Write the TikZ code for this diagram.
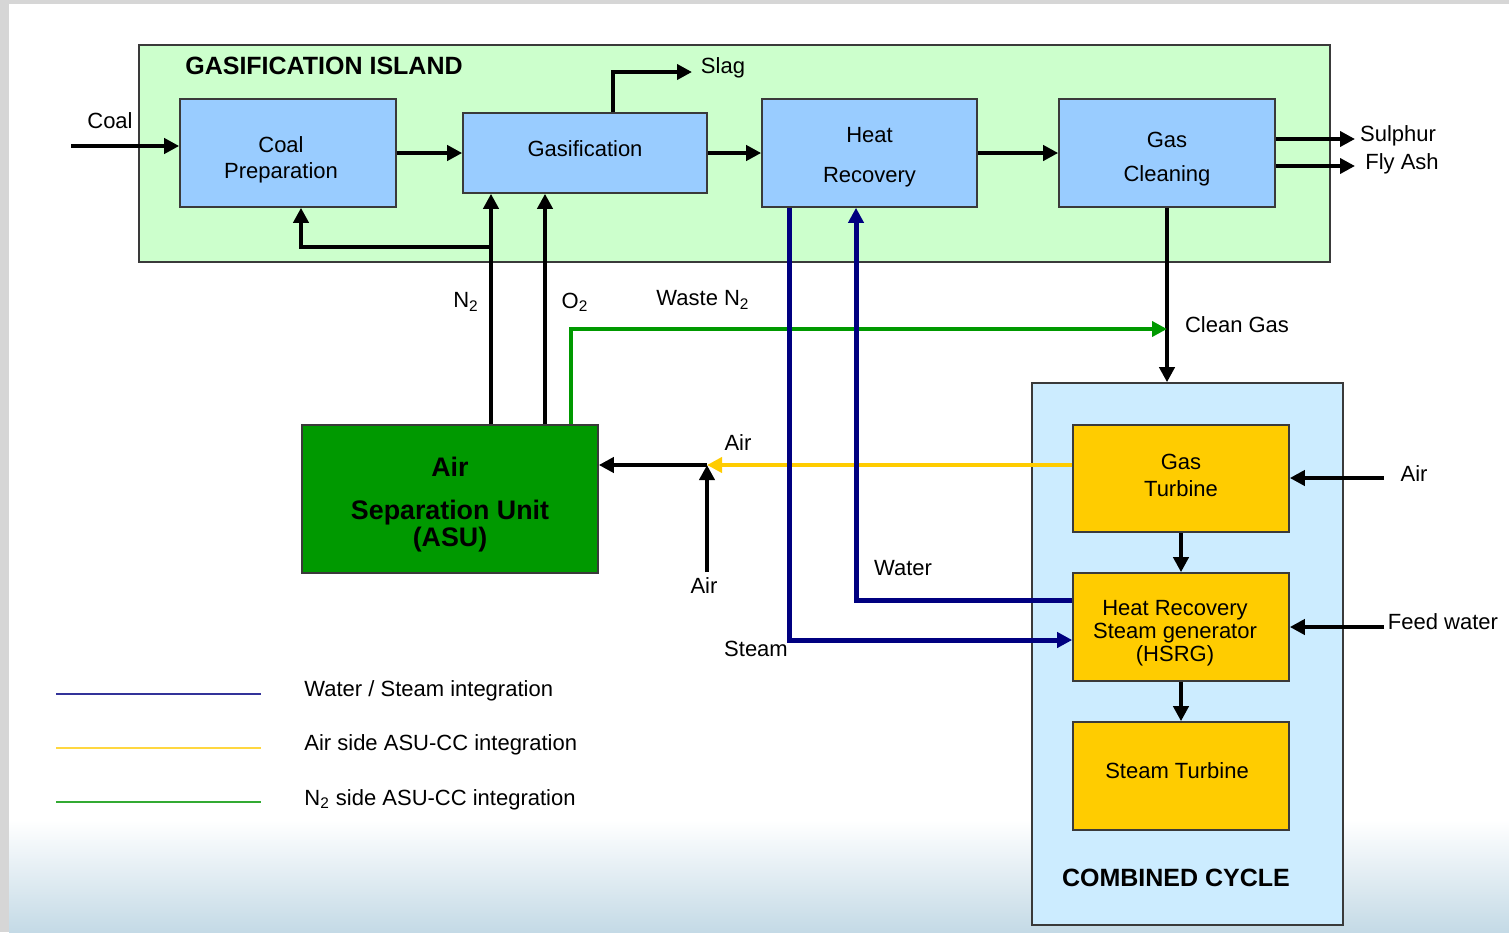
\documentclass[tikz,border=0pt]{standalone}
\usepackage{fontspec}
\setmainfont{Liberation Sans}
\usetikzlibrary{arrows.meta,positioning}
\definecolor{bggray}{HTML}{D6D6D6}
\definecolor{bgblue}{HTML}{C4DAE6}
\definecolor{islandgreen}{HTML}{CCFFCC}
\definecolor{unitblue}{HTML}{99CCFF}
\definecolor{ccblue}{HTML}{CCECFF}
\definecolor{ccyellow}{HTML}{FFCC00}
\definecolor{asugreen}{HTML}{009900}
\definecolor{steamblue}{HTML}{000080}
\definecolor{boxline}{HTML}{3A3A3A}
\definecolor{legblue}{HTML}{333399}
\definecolor{legyellow}{HTML}{FFD740}
\definecolor{leggreen}{HTML}{33AA33}
\tikzset{
  zone/.style={draw=boxline, line width=0.8pt, inner sep=0pt},
  unit/.style={draw=boxline, line width=0.8pt, fill=unitblue, inner sep=0pt},
  ccunit/.style={unit, fill=ccyellow},
  unittxt/.style={align=center, inner sep=0pt, font=\fontsize{11}{13}\selectfont},
  flow/.style={line width=2.2pt, -{Triangle[length=7.5pt,width=7.5pt]}},
  lbl/.style={font=\fontsize{11}{13}\selectfont, inner sep=0pt},
  title/.style={font=\fontsize{12.5}{15}\selectfont\bfseries, inner sep=0pt},
  legline/.style={line width=0.9pt}
}

\begin{document}
\begin{tikzpicture}[x=0.5pt,y=-0.5pt]
  % page background
  \useasboundingbox (0,0) rectangle (1509,932);
  \fill[bggray] (0,0) rectangle (1509,932);
  \fill[white] (9,4) rectangle (1509,932);
  \shade[top color=white,bottom color=bgblue] (9,820) rectangle (1509,932);

  % gasification island
  \node(island)[zone,fill=islandgreen,minimum width=595.5pt,minimum height=108.5pt] at (734.5,153.5){};
  \node(islandtitle)[title] at (324,66){GASIFICATION ISLAND};
  \node(cprep)[unit,minimum width=108pt,minimum height=54pt] at (288,153){};
  \node(gasif)[unit,minimum width=122pt,minimum height=40pt] at (585,153){};
  \node(hrec)[unit,minimum width=107.5pt,minimum height=54pt] at (869.5,153){};
  \node(gclean)[unit,minimum width=108pt,minimum height=54pt] at (1167,153){};
  \node(cpreptxt)[unittxt] at (281,160){Coal\\Preparation};
  \node(gasiftxt)[unittxt] at (585,149){Gasification};
  \node(hrectxt)[unittxt] at (869.5,157){Heat\\[7pt]Recovery};
  \node(gcleantxt)[unittxt] at (1167,159){Gas\\[4pt]Cleaning};

  % air separation unit
  \node(asu)[unit,fill=asugreen,minimum width=148pt,minimum height=74pt] at (450,499){};
  \node(asutxt)[unittxt,font=\fontsize{13.4}{13.5}\selectfont\bfseries] at (450,505){Air\\[8pt]Separation Unit\\(ASU)};

  % combined cycle
  \node(cc)[zone,fill=ccblue,minimum width=155.5pt,minimum height=271pt] at (1187.5,654){};
  \node(cctitle)[title] at (1176,878){COMBINED CYCLE};
  \node(gt)[ccunit,minimum width=108pt,minimum height=53.5pt] at (1181,478.5){};
  \node(hrsg)[ccunit,minimum width=108pt,minimum height=54pt] at (1181,627){};
  \node(st)[ccunit,minimum width=108pt,minimum height=54pt] at (1181,776){};
  \node(gttxt)[unittxt] at (1181,475){Gas\\[0.5pt]Turbine};
  \node(hrsgtxt)[unittxt,font=\fontsize{11}{11.5}\selectfont] at (1175,633){Heat Recovery\\Steam generator\\(HSRG)};
  \node(sttxt)[unittxt] at (1177,771){Steam Turbine};

  % helper points
  \coordinate(coalin) at (71,146);
  \coordinate(slagx) at (613,72);
  \coordinate(slagend) at (692,72);
  \coordinate(sulend) at (1355,139);
  \coordinate(ashend) at (1355,166);
  \coordinate(n2x) at (491,0);
  \coordinate(n2j) at (491,247);
  \coordinate(cpx) at (301,0);
  \coordinate(o2x) at (545,0);
  \coordinate(wn2) at (571,329);
  \coordinate(airj) at (707,465);
  \coordinate(airin) at (707,572);
  \coordinate(stx) at (789,640);
  \coordinate(wtx) at (856,600);
  \coordinate(gtair) at (1384,478);
  \coordinate(fwin) at (1384,627);

  % main gas line
  \draw[flow](coalin) -- (coalin -| cprep.west);
  \draw[flow](cprep) -- (gasif);
  \draw[flow](gasif) -- (hrec);
  \draw[flow](hrec) -- (gclean);
  \draw[flow](gasif.north -| slagx) |- (slagend);
  \draw[flow](sulend -| gclean.east) -- (sulend);
  \draw[flow](ashend -| gclean.east) -- (ashend);
  \draw[flow](gclean) -- (gclean |- cc.north);

  % asu streams
  \draw[flow](asu.north -| n2x) -- (gasif.south -| n2x);
  \draw[flow](n2j) -| (cprep.south -| cpx);
  \draw[flow](asu.north -| o2x) -- (gasif.south -| o2x);
  \draw[flow,draw=asugreen,line width=2pt](asu.north -| wn2) |- (gclean |- wn2);
  \draw[flow,draw=ccyellow,line width=2.4pt](airj -| gt.west) -- (airj);
  \draw[flow](airin) -- (airj);
  \draw[flow](airj) -- (airj -| asu.east);

  % water / steam
  \draw[flow,draw=steamblue,line width=2.5pt](hrec.south -| stx) |- (stx -| hrsg.west);
  \draw[flow,draw=steamblue,line width=2.5pt](wtx -| hrsg.west) -| (hrec.south -| wtx);

  % combined cycle streams
  \draw[flow](gt) -- (hrsg);
  \draw[flow](hrsg) -- (st);
  \draw[flow](gtair) -- (gtair -| gt.east);
  \draw[flow](fwin) -- (fwin -| hrsg.east);

  % labels
  \node(coallbl)[lbl] at (110,121){Coal};
  \node(slaglbl)[lbl] at (723,68){Slag};
  \node(sullbl)[lbl] at (1398,136){Sulphur};
  \node(ashlbl)[lbl] at (1402,164){Fly Ash};
  \node(cleanlbl)[lbl] at (1237,325){Clean Gas};
  \node(n2lbl)[lbl] at (466,302){N\textsubscript{2}};
  \node(o2lbl)[lbl] at (575,302){O\textsubscript{2}};
  \node(wn2lbl)[lbl] at (703,300){Waste N\textsubscript{2}};
  \node(airlbla)[lbl] at (738,443){Air};
  \node(airlblb)[lbl] at (704,586){Air};
  \node(waterlbl)[lbl] at (903,568){Water};
  \node(steamlbl)[lbl] at (756,649){Steam};
  \node(gtairlbl)[lbl] at (1414,474){Air};
  \node(fwlbl)[lbl] at (1443,622){Feed water};

  % legend
  \coordinate(lega) at (56,694);
  \coordinate(legb) at (56,748);
  \coordinate(legc) at (56,802);
  \draw[legline,draw=legblue](lega) -- ++(205,0);
  \draw[legline,draw=legyellow](legb) -- ++(205,0);
  \draw[legline,draw=leggreen](legc) -- ++(205,0);
  \node(legatxt)[lbl,anchor=west] at (304,691){Water / Steam integration};
  \node(legbtxt)[lbl,anchor=west] at (304,745){Air side ASU-CC integration};
  \node(legctxt)[lbl,anchor=west] at (304,800){N\textsubscript{2} side ASU-CC integration};
\end{tikzpicture}
\end{document}
